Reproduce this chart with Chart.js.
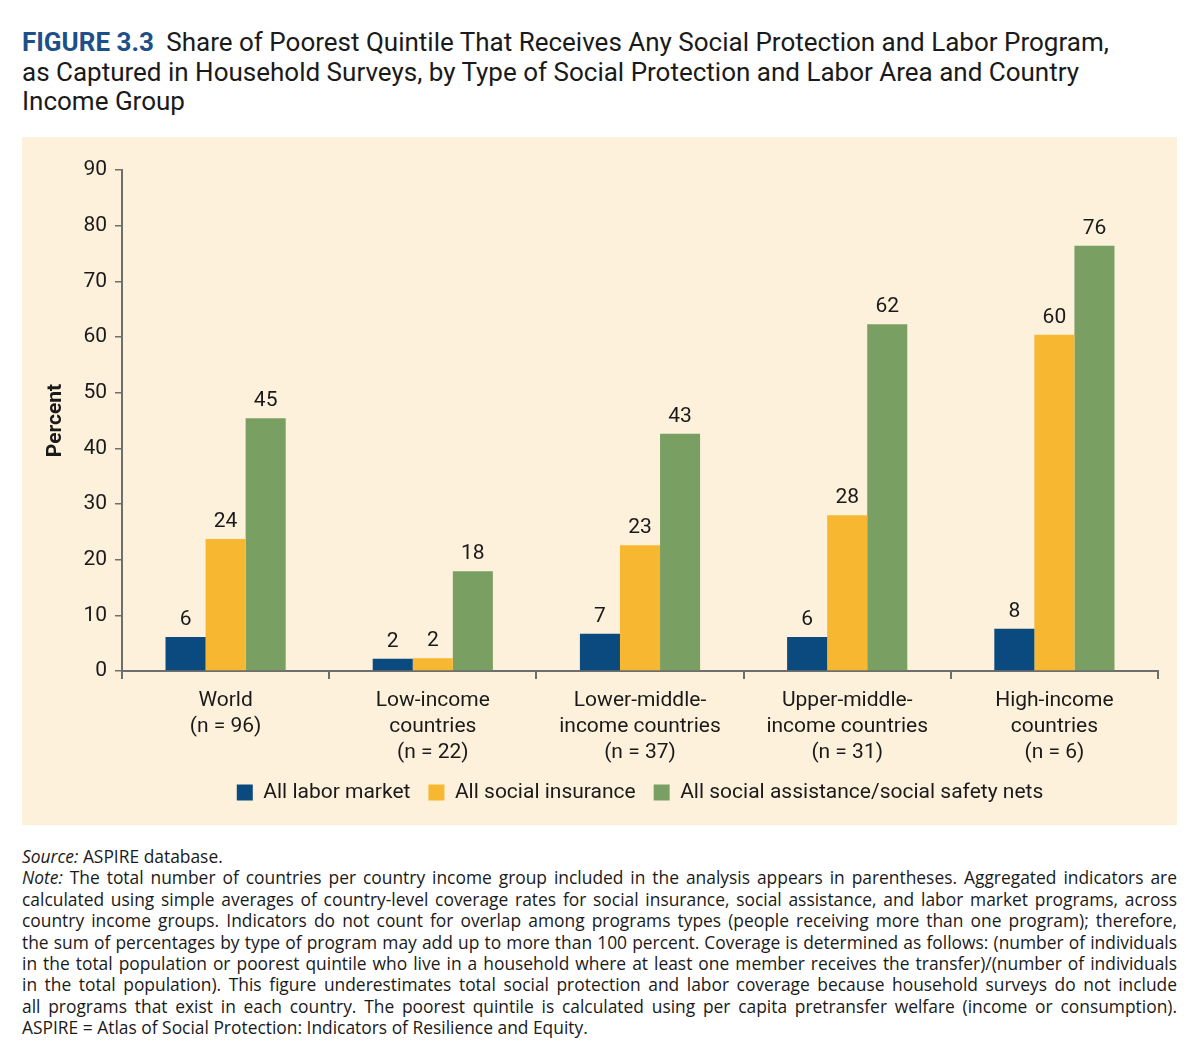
<!DOCTYPE html>
<html>
<head>
<meta charset="utf-8">
<script src="https://cdn.jsdelivr.net/npm/chart.js@4"></script>
<style>
  html, body { margin: 0; padding: 0; background: #fff; }
  body { width: 1200px; height: 1059px; position: relative; font-family: Roboto, sans-serif; color: #1a1a1a; }
  #title { position: absolute; left: 22px; top: 28px; width: 1160px; font-size: 26px; line-height: 29.5px; }
  #title b { color: #1d4f88; font-weight: 700; margin-right: 6px; }
  #panel { position: absolute; left: 22px; top: 137px; width: 1155px; height: 688px; background: #fdf1dc; }
  #notes { position: absolute; left: 22px; top: 846px; width: 1155px; font-family: "Open Sans", sans-serif; font-size: 17.4px; line-height: 21.4px; }
  #notes div { white-space: nowrap; text-align: justify; text-align-last: justify; }
  #notes div.l { text-align-last: left; }
</style>
</head>
<body>
<div id="title"><b>FIGURE 3.3</b> Share of Poorest Quintile That Receives Any Social Protection and Labor Program,<br>as Captured in Household Surveys, by Type of Social Protection and Labor Area and Country<br>Income Group</div>
<div id="panel"><canvas id="chart" width="1155" height="688"></canvas></div>
<div id="notes">
  <div class="l"><i>Source:</i> ASPIRE database.</div>
  <div><i>Note:</i> The total number of countries per country income group included in the analysis appears in parentheses. Aggregated indicators are</div>
  <div>calculated using simple averages of country-level coverage rates for social insurance, social assistance, and labor market programs, across</div>
  <div>country income groups. Indicators do not count for overlap among programs types (people receiving more than one program); therefore,</div>
  <div>the sum of percentages by type of program may add up to more than 100 percent. Coverage is determined as follows: (number of individuals</div>
  <div>in the total population or poorest quintile who live in a household where at least one member receives the transfer)/(number of individuals</div>
  <div>in the total population). This figure underestimates total social protection and labor coverage because household surveys do not include</div>
  <div>all programs that exist in each country. The poorest quintile is calculated using per capita pretransfer welfare (income or consumption).</div>
  <div class="l">ASPIRE = Atlas of Social Protection: Indicators of Resilience and Equity.</div>
</div>
<script>
// categories and series (percent of poorest quintile covered)
const groups = [
  ['World', '(n = 96)'],
  ['Low-income', 'countries', '(n = 22)'],
  ['Lower-middle-', 'income countries', '(n = 37)'],
  ['Upper-middle-', 'income countries', '(n = 31)'],
  ['High-income', 'countries', '(n = 6)']
];
const laborMarket = [6.1, 2.2, 6.7, 6.1, 7.6];
const socialInsurance = [23.7, 2.3, 22.6, 28.0, 60.4];
const safetyNets = [45.4, 17.9, 42.6, 62.3, 76.4];
const yTicks = [0, 10, 20, 30, 40, 50, 60, 70, 80, 90];

const axisGray = '#6e6e6e';
const textColor = '#1a1a1a';

// etiquettes de valeur au-dessus des barres
const valueLabels = {
  id: 'valueLabels',
  afterLayout(chart) {
    // légende centrée sur la zone du graphique
    chart.legend.left = chart.chartArea.left;
    chart.legend.right = chart.chartArea.right;
  },
  afterDatasetsDraw(chart) {
    const ctx = chart.ctx;
    ctx.save();
    ctx.font = '21px Roboto';
    ctx.fillStyle = textColor;
    ctx.textAlign = 'center';
    ctx.textBaseline = 'alphabetic';
    chart.data.datasets.forEach((ds, i) => {
      chart.getDatasetMeta(i).data.forEach((bar, j) => {
        ctx.fillText(Math.round(ds.data[j]), bar.x, bar.y - 12);
      });
    });
    ctx.restore();
  }
};

new Chart(document.getElementById('chart'), {
  type: 'bar',
  data: {
    labels: groups,
    datasets: [
      { label: 'All labor market', data: laborMarket, backgroundColor: '#0b4a7e' },
      { label: 'All social insurance', data: socialInsurance, backgroundColor: '#f7b731' },
      { label: 'All social assistance/social safety nets', data: safetyNets, backgroundColor: '#7a9f62' }
    ]
  },
  options: {
    responsive: false,
    animation: false,
    devicePixelRatio: 1,
    layout: { padding: { top: 33, right: 19, bottom: 12, left: 21 } },
    datasets: { bar: { barPercentage: 1, categoryPercentage: 0.58 } },
    plugins: {
      legend: {
        position: 'bottom',
        labels: { color: textColor, font: { family: 'Roboto', size: 21 }, boxWidth: 16, boxHeight: 16, padding: 18 }
      },
      tooltip: { enabled: false }
    },
    scales: {
      x: {
        border: { color: axisGray, width: 2 },
        grid: { drawOnChartArea: false, color: axisGray, tickLength: 8, lineWidth: 2, offset: true },
        ticks: { color: textColor, font: { family: 'Roboto', size: 21, lineHeight: 1.24 }, padding: 9, maxRotation: 0 },
        afterFit(s) { s.height = 93; }
      },
      y: {
        min: 0, max: 90,
        afterBuildTicks(s) { s.ticks = yTicks.map(v => ({ value: v })); },
        afterFit(s) { s.width = 79; },
        border: { color: axisGray, width: 2 },
        grid: { drawOnChartArea: false, color: axisGray, tickLength: 7, lineWidth: 1.5 },
        ticks: { color: textColor, font: { family: 'Roboto', size: 21 }, padding: 8 },
        title: { display: true, text: 'Percent', color: textColor, font: { family: 'Roboto', size: 21, weight: 'bold' }, padding: 0 }
      }
    }
  },
  plugins: [valueLabels]
});
</script>
</body>
</html>
